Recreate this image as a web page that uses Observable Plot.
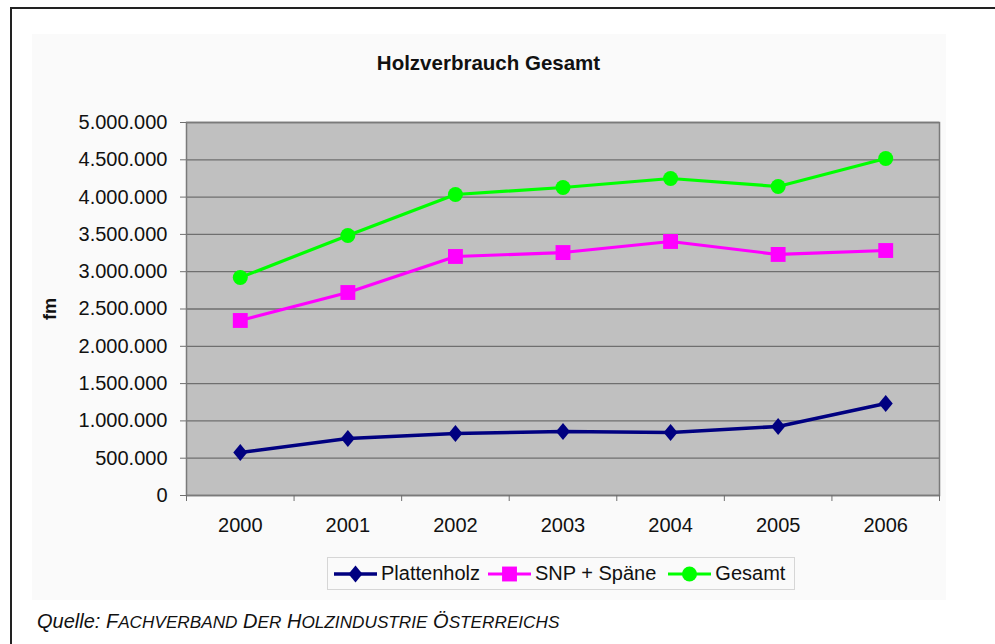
<!DOCTYPE html>
<html>
<head>
<meta charset="utf-8">
<script src="https://cdn.jsdelivr.net/npm/d3@7"></script>
<script src="https://cdn.jsdelivr.net/npm/@observablehq/plot@0.6"></script>
<style>
  html, body { margin: 0; padding: 0; background: #fff; overflow: hidden; }
  #root { position: relative; width: 995px; height: 644px; overflow: hidden; font-family: "Liberation Sans", Arial, sans-serif; color: #111; }
  #frame { position: absolute; left: 10px; top: 7px; width: 1100px; height: 800px; border-left: 2px solid #222; border-top: 2px solid #222; }
  #panel { position: absolute; left: 32px; top: 34px; width: 914px; height: 566px; background: #fafafa; }
  #title { position: absolute; left: 0; width: 977px; top: 51px; text-align: center; font-weight: bold; font-size: 20.5px; }
  #ylabel { position: absolute; left: 50px; top: 309px; font-weight: bold; font-size: 18px; transform: translate(-50%, -50%) rotate(-90deg); white-space: nowrap; }
  #chart { position: absolute; left: 0; top: 0; }
  #legend { position: absolute; left: 327px; top: 557px; width: 466px; height: 31px; border: 1px solid #d6d6d6; display: flex; align-items: center; font-size: 20px; box-sizing: content-box; }
  .item { display: flex; align-items: center; }
  .item svg { display: block; }
  #caption { position: absolute; left: 37px; top: 610px; font-size: 20px; font-style: italic; white-space: nowrap; }
  #caption .sm { font-size: 17.2px; }
</style>
</head>
<body>
<div id="root">
  <div id="frame"></div>
  <div id="panel"></div>
  <div id="chart"></div>
  <div id="title">Holzverbrauch Gesamt</div>
  <div id="ylabel">fm</div>
  <div id="legend"></div>
  <div id="caption">Quelle: F<span class="sm">ACHVERBAND</span> D<span class="sm">ER</span> H<span class="sm">OLZINDUSTRIE</span> Ö<span class="sm">STERREICHS</span></div>
</div>
<script>
// ---- data ----
const years = [2000, 2001, 2002, 2003, 2004, 2005, 2006];
const plattenholz = [576000, 764000, 831000, 858000, 845000, 925000, 1233000];
const snpSpaene   = [2346000, 2721000, 3204000, 3257000, 3405000, 3231000, 3284000];
const gesamt      = [2922000, 3485000, 4035000, 4129000, 4249000, 4142000, 4517000];
const seriesNames = ["Plattenholz", "SNP + Späne", "Gesamt"];
const seriesColors = ["#000080", "#ff00ff", "#00ff00"];
const yTicks = [0, 500000, 1000000, 1500000, 2000000, 2500000, 3000000, 3500000, 4000000, 4500000, 5000000];
const yearBoundaries = [1999.5, 2000.5, 2001.5, 2002.5, 2003.5, 2004.5, 2005.5, 2006.5];

const diamondSym = {
  draw(ctx, size) {
    const r = Math.sqrt(size / Math.PI);
    const w = r * 1.17, h = r * 1.42;
    ctx.moveTo(0, -h); ctx.lineTo(w, 0); ctx.lineTo(0, h); ctx.lineTo(-w, 0); ctx.closePath();
  }
};
const seriesSymbols = [diamondSym, "square", "circle"];
const seriesR = [6, 8.4, 7.5];
const seriesWidth = [3.6, 3.2, 3.2];
const seriesValues = [plattenholz, snpSpaene, gesamt];

const rows = [];
seriesNames.forEach((name, s) => years.forEach((yr, i) => rows.push({series: name, s, year: yr, value: seriesValues[s][i]})));

const fmt = d => d3.format(",")(d).replace(/,/g, ".");

const marks = [
  Plot.frame({fill: "#c0c0c0", stroke: null}),
  Plot.gridY(yTicks, {stroke: "#6f6f6f", strokeOpacity: 1, strokeWidth: 1.3}),
  Plot.frame({stroke: "#7a7a7a", strokeWidth: 1.5}),
  Plot.axisY(yTicks, {anchor: "left", tickSize: 6, tickPadding: 13, tickFormat: fmt, stroke: "#6f6f6f", fill: "#111", label: null}),
  Plot.axisX(yearBoundaries, {anchor: "bottom", tickSize: 6, tickFormat: () => "", stroke: "#6f6f6f", label: null}),
  Plot.axisX(years, {anchor: "bottom", tickSize: 0, tickPadding: 22, tickFormat: d => String(d), fill: "#111", label: null})
];
seriesNames.forEach((name, s) => {
  const data = rows.filter(d => d.s === s);
  marks.push(Plot.line(data, {x: "year", y: "value", stroke: seriesColors[s], strokeWidth: seriesWidth[s], strokeLinejoin: "round"}));
});
seriesNames.forEach((name, s) => {
  const data = rows.filter(d => d.s === s);
  marks.push(Plot.dot(data, {x: "year", y: "value", symbol: seriesSymbols[s], r: seriesR[s], fill: seriesColors[s], stroke: null}));
});

const chart = Plot.plot({
  width: 995,
  height: 545,
  marginLeft: 186,
  marginRight: 56,
  marginTop: 122,
  marginBottom: 50,
  style: {fontSize: "20px", fontFamily: '"Liberation Sans", Arial, sans-serif', background: "transparent", overflow: "visible"},
  x: {type: "linear", domain: [1999.5, 2006.5], axis: null},
  y: {domain: [0, 5000000], axis: null},
  marks
});
document.getElementById("chart").appendChild(chart);

// ---- legend ----
const legend = d3.select("#legend");
const gaps = [6, 8, 12];
seriesNames.forEach((name, s) => {
  const item = legend.append("div").attr("class", "item").style("margin-left", gaps[s] + "px");
  const svg = item.append("svg").attr("width", 43).attr("height", 20);
  svg.append("line").attr("x1", 0).attr("x2", 43).attr("y1", 10).attr("y2", 10)
    .attr("stroke", seriesColors[s]).attr("stroke-width", seriesWidth[s]);
  const sym = typeof seriesSymbols[s] === "string"
    ? (seriesSymbols[s] === "square" ? d3.symbolSquare : d3.symbolCircle)
    : seriesSymbols[s];
  const size = Math.PI * seriesR[s] * seriesR[s];
  svg.append("path").attr("d", d3.symbol(sym, size)()).attr("transform", "translate(21.5,10)").attr("fill", seriesColors[s]);
  item.append("span").style("margin-left", "4px").text(name);
});
</script>
</body>
</html>
